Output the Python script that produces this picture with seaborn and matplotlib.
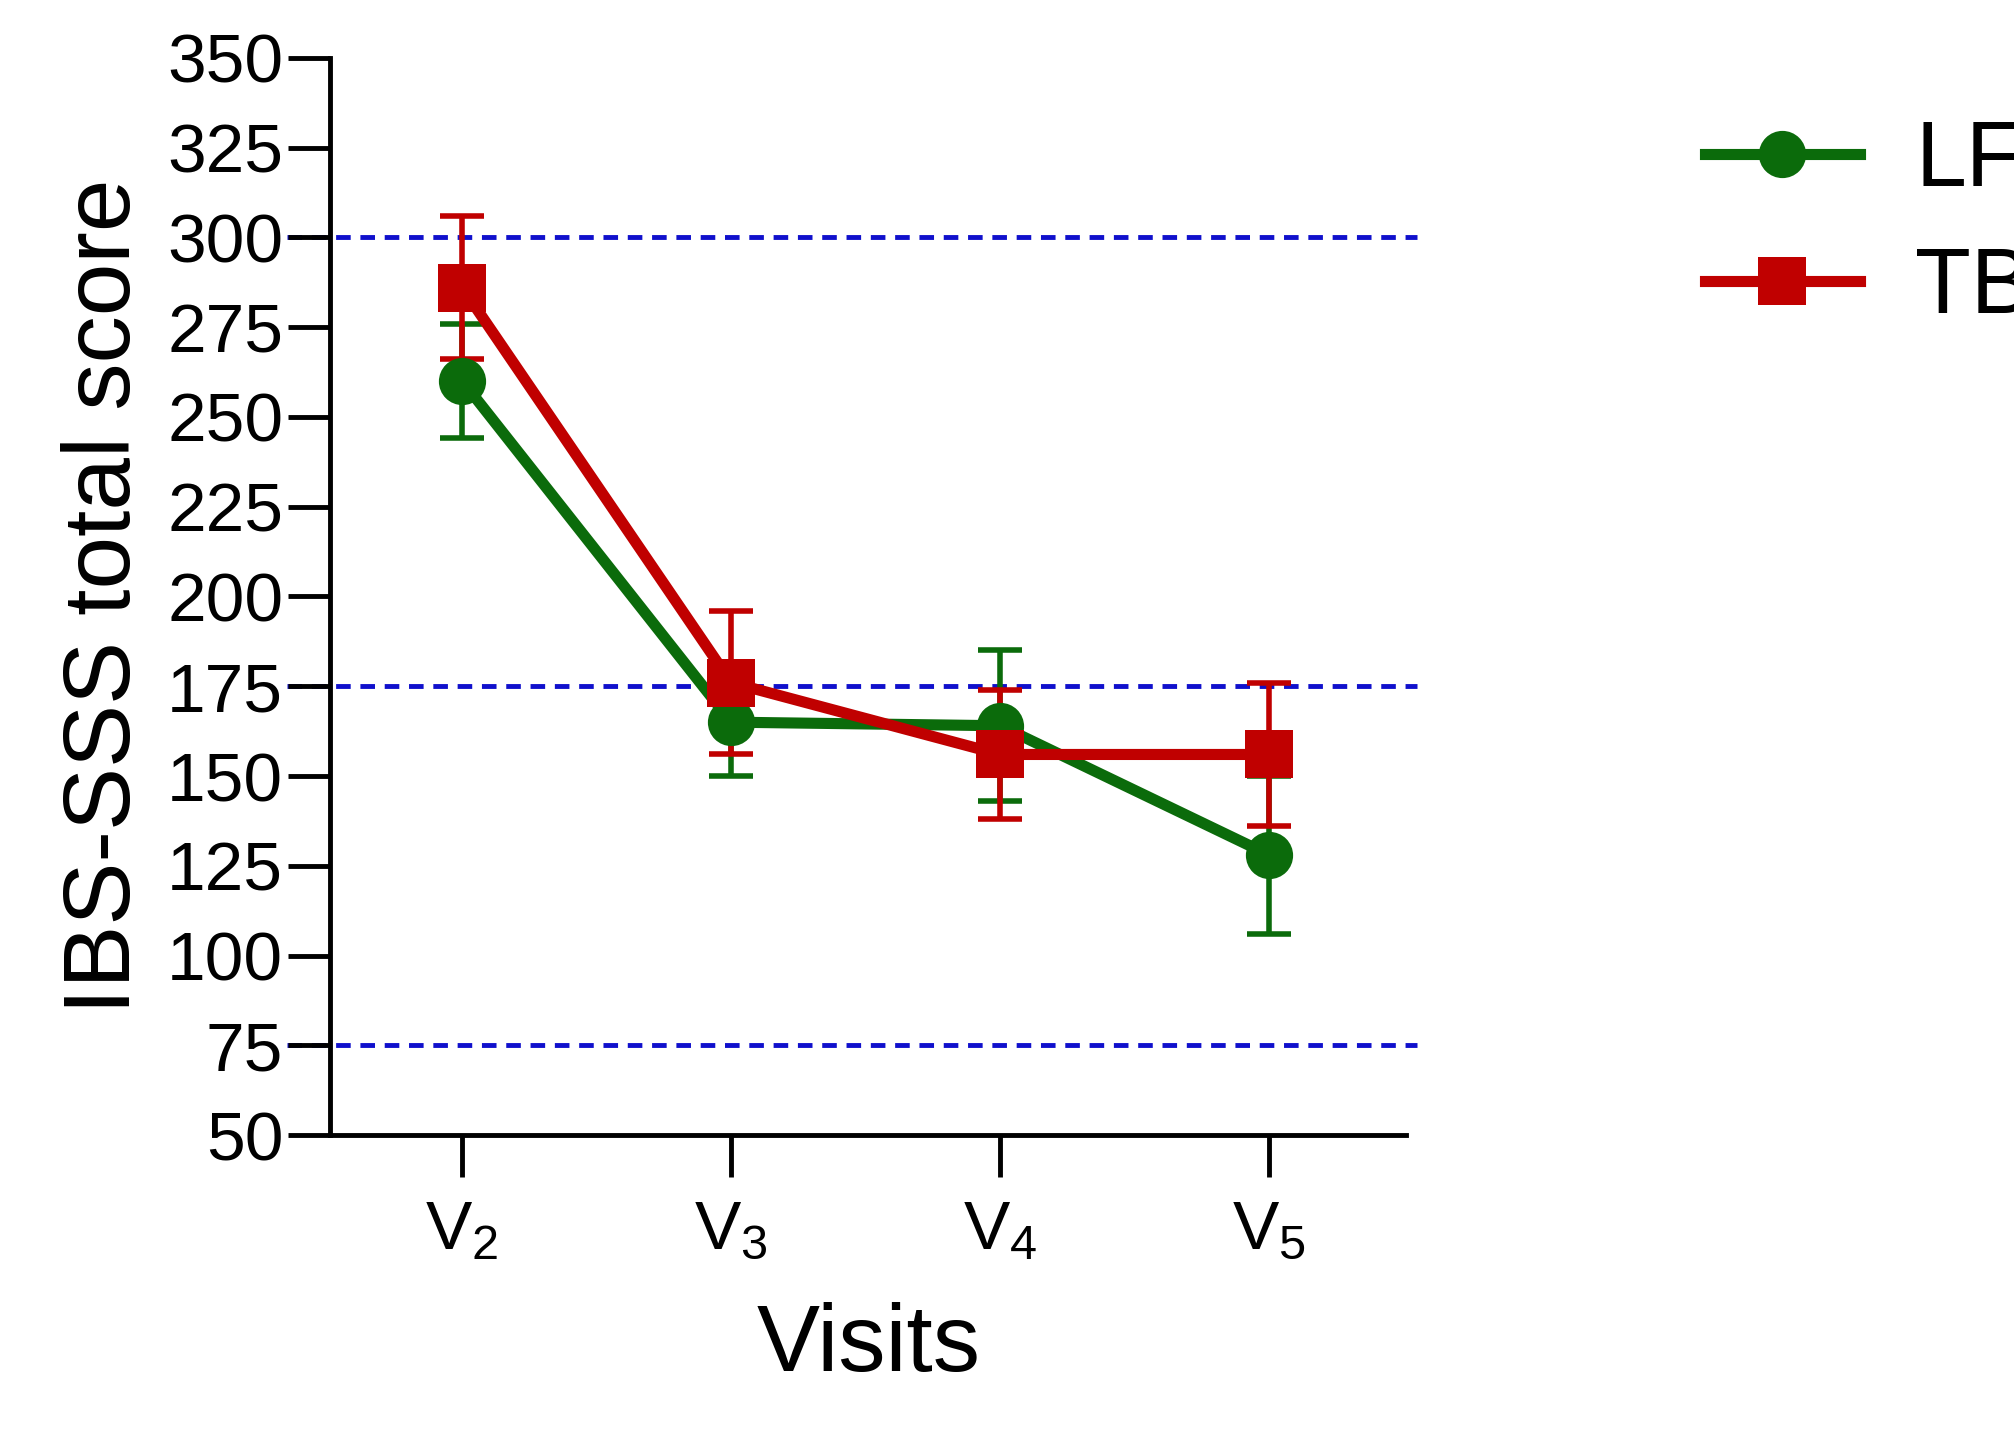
import numpy as np
import pandas as pd
import seaborn as sns
import matplotlib.pyplot as plt

visits = ["V$_{2}$", "V$_{3}$", "V$_{4}$", "V$_{5}$"]
lfd_mean = [260, 165, 164, 128]
lfd_err = [16, 15, 21, 22]
tbd_mean = [286, 176, 156, 156]
tbd_err = [20, 20, 18, 20]
ref_lines = [300, 175, 75]

plt.rcParams['font.family'] = 'Liberation Sans'
plt.rcParams['mathtext.fontset'] = 'custom'
plt.rcParams['mathtext.rm'] = 'Liberation Sans'
plt.rcParams['mathtext.it'] = 'Liberation Sans'

df = pd.DataFrame({
    "x": list(range(4)) * 2,
    "score": lfd_mean + tbd_mean,
    "err": lfd_err + tbd_err,
    "group": ["LFD"] * 4 + ["TBD"] * 4,
})
colors = {"LFD": "#0b6b0b", "TBD": "#c00000"}
markers = {"LFD": "o", "TBD": "s"}

fig = plt.figure(figsize=(20.15, 14.46), dpi=100)
ax = fig.add_axes([0.164, 0.215, 0.534, 0.745])

for y in ref_lines:
    ax.plot([-0.04, 1.01], [y, y], transform=ax.get_yaxis_transform(),
            color="#1010cc", ls=(0, (3, 2)), lw=3.5, clip_on=False, zorder=1)

for g in ["LFD", "TBD"]:
    d = df[df.group == g]
    ax.errorbar(d.x, d.score, yerr=d.err, fmt="none", ecolor=colors[g],
                elinewidth=4, capsize=16, capthick=4, zorder=2)

sns.lineplot(data=df, x="x", y="score", hue="group", style="group",
             palette=colors, markers=markers, dashes=False, lw=8,
             markersize=34, markeredgewidth=0, ax=ax, zorder=3)

ax.set_xlim(-0.49, 3.51)
ax.set_ylim(50, 350)
ax.set_yticks(range(50, 351, 25))
ax.set_xticks(range(4))
ax.set_xticklabels(visits)
ax.tick_params(axis='both', labelsize=50, width=3.5, length=30, direction='out')
ax.tick_params(axis='y', pad=4)
ax.tick_params(axis='x', pad=16)
for s in ["top", "right"]:
    ax.spines[s].set_visible(False)
for s in ["left", "bottom"]:
    ax.spines[s].set_linewidth(3.5)
ax.set_xlabel("Visits", fontsize=68, labelpad=28)
ax.set_ylabel("IBS-SSS total score", fontsize=68, labelpad=12)

h, l = ax.get_legend_handles_labels()
ax.legend_.remove()
fig.legend(h, l, loc="upper left", bbox_to_anchor=(0.805, 0.975), frameon=False,
           fontsize=66, handlelength=1.7, labelspacing=0.45, handletextpad=0.6)

fig.savefig("out.png", dpi=100)
